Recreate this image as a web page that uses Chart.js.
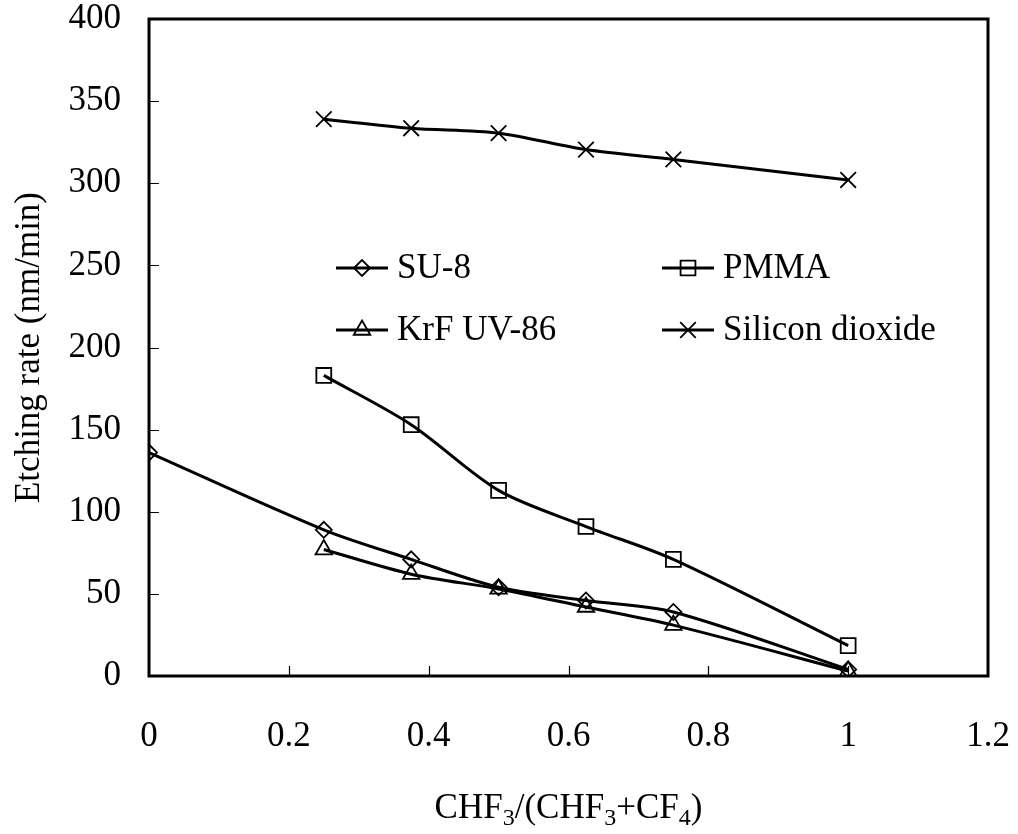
<!DOCTYPE html>
<html>
<head>
<meta charset="utf-8">
<script src="https://cdn.jsdelivr.net/npm/chart.js@4"></script>
<style>
html,body{margin:0;padding:0;background:#fff;}
#wrap{width:1018px;height:834px;position:relative;}
</style>
</head>
<body>
<div id="wrap"><canvas id="c"></canvas></div>
<script>
// ---- data ----
const xValues = [0, 0.25, 0.375, 0.5, 0.625, 0.75, 1];
const su8Values  = [136, 89, 71, 54, 46, 39, 4];
const pmmaValues = [null, 183, 153, 113, 91, 71, 18.5];
const krfValues  = [null, 77, 62, 53, 42, 31, 3];
const sio2Values = [null, 339, 333.5, 330.5, 320.5, 314.5, 302];
const seriesNames = ['SU-8', 'PMMA', 'KrF UV-86', 'Silicon dioxide'];
const xTickValues = [0, 0.2, 0.4, 0.6, 0.8, 1, 1.2];
const xTickLabels = ['0', '0.2', '0.4', '0.6', '0.8', '1', '1.2'];
const yTickValues = [0, 50, 100, 150, 200, 250, 300, 350, 400];
const yTickLabels = ['0', '50', '100', '150', '200', '250', '300', '350', '400'];
const yTitle = 'Etching rate (nm/min)';
const xTitleParts = [['CHF', false], ['3', true], ['/(CHF', false], ['3', true], ['+CF', false], ['4', true], [')', false]];

const FONT = 'Liberation Serif, Times New Roman, serif';
const zip = vals => xValues.map((x, i) => ({x: x, y: vals[i]})).filter(p => p.y !== null);

const markers = [
  {style: 'rectRot', radius: 8},
  {style: 'rect', radius: 10.5},
  {style: 'triangle', radius: 9.5},
  {style: 'crossRot', radius: 11}
];
const seriesValues = [su8Values, pmmaValues, krfValues, sio2Values];

const datasets = seriesValues.map((vals, i) => ({
  label: seriesNames[i],
  data: zip(vals),
  showLine: true,
  borderColor: '#000',
  borderWidth: 3,
  tension: 0.3,
  pointStyle: markers[i].style,
  pointRadius: markers[i].radius,
  pointBorderWidth: 1.8,
  pointBorderColor: '#000',
  pointBackgroundColor: 'rgba(0,0,0,0)'
}));

const legendItems = [
  {i: 0, x: 336, y: 268},
  {i: 1, x: 662, y: 268},
  {i: 2, x: 336, y: 330},
  {i: 3, x: 662, y: 330}
];

const framePlugin = {
  id: 'frame',
  beforeDatasetsDraw(chart) {
    const {ctx, chartArea: a, scales} = chart;
    ctx.save();
    ctx.strokeStyle = '#000';
    ctx.lineWidth = 1.2;
    ctx.beginPath();
    xTickValues.forEach(v => {
      if (v <= 0 || v >= 1.2) return;
      const px = Math.round(scales.x.getPixelForValue(v)) + 0.5;
      ctx.moveTo(px, a.bottom); ctx.lineTo(px, a.bottom - 10);
    });
    yTickValues.forEach(v => {
      if (v <= 0 || v >= 400) return;
      const py = Math.round(scales.y.getPixelForValue(v)) + 0.5;
      ctx.moveTo(a.left, py); ctx.lineTo(a.left + 10, py);
    });
    ctx.stroke();
    ctx.lineWidth = 3;
    ctx.strokeRect(a.left, a.top, a.right - a.left, a.bottom - a.top);
    ctx.restore();
  },
  afterDraw(chart) {
    const {ctx, chartArea: a} = chart;
    ctx.save();
    ctx.fillStyle = '#000';
    // legend
    legendItems.forEach(it => {
      const m = markers[it.i];
      ctx.strokeStyle = '#000';
      ctx.lineWidth = 3;
      ctx.beginPath();
      ctx.moveTo(it.x, it.y); ctx.lineTo(it.x + 52, it.y);
      ctx.stroke();
      ctx.lineWidth = 1.8;
      ctx.fillStyle = 'rgba(0,0,0,0)';
      Chart.helpers.drawPoint(ctx, {pointStyle: m.style, radius: m.radius, borderWidth: 1.8, rotation: 0}, it.x + 26, it.y);
      ctx.fillStyle = '#000';
      ctx.font = '35px ' + FONT;
      ctx.textAlign = 'left';
      ctx.textBaseline = 'middle';
      ctx.fillText(seriesNames[it.i], it.x + 61, it.y + 1);
    });
    // y title
    ctx.save();
    ctx.translate(30, (a.top + a.bottom) / 2);
    ctx.rotate(-Math.PI / 2);
    ctx.font = '35px ' + FONT;
    ctx.textAlign = 'center';
    ctx.textBaseline = 'middle';
    ctx.fillText(yTitle, 0, 0);
    ctx.restore();
    // x title with subscripts
    const big = '35px ' + FONT, small = '24px ' + FONT;
    let total = 0;
    xTitleParts.forEach(p => { ctx.font = p[1] ? small : big; total += ctx.measureText(p[0]).width; });
    let x = (a.left + a.right) / 2 - total / 2;
    ctx.textAlign = 'left';
    ctx.textBaseline = 'alphabetic';
    xTitleParts.forEach(p => {
      ctx.font = p[1] ? small : big;
      ctx.fillText(p[0], x, p[1] ? 825 : 818);
      x += ctx.measureText(p[0]).width;
    });
    ctx.restore();
  }
};

new Chart(document.getElementById('c'), {
  type: 'scatter',
  data: {datasets: datasets},
  options: {
    responsive: true,
    maintainAspectRatio: false,
    animation: false,
    layout: {padding: {top: 19, right: 30, left: 0, bottom: 0}},
    plugins: {legend: {display: false}, tooltip: {enabled: false}},
    scales: {
      x: {
        type: 'linear', min: 0, max: 1.2,
        afterBuildTicks: s => { s.ticks = xTickValues.map(v => ({value: v})); },
        afterFit: s => { s.height = 158; s.paddingLeft = 0; s.paddingRight = 0; },
        ticks: {
          callback: v => xTickLabels[xTickValues.indexOf(v)],
          font: {family: FONT, size: 35, lineHeight: 1},
          color: '#000', padding: 43, maxRotation: 0, autoSkip: false
        },
        grid: {display: false, drawTicks: false, tickLength: 0},
        border: {display: false}
      },
      y: {
        type: 'linear', min: 0, max: 400,
        afterBuildTicks: s => { s.ticks = yTickValues.map(v => ({value: v})); },
        afterFit: s => { s.width = 149; s.paddingTop = 0; s.paddingBottom = 0; },
        ticks: {
          callback: v => yTickLabels[yTickValues.indexOf(v)],
          font: {family: FONT, size: 35, lineHeight: 1},
          color: '#000', padding: 28, autoSkip: false
        },
        grid: {display: false, drawTicks: false, tickLength: 0},
        border: {display: false}
      }
    }
  },
  plugins: [framePlugin]
});
</script>
</body>
</html>
